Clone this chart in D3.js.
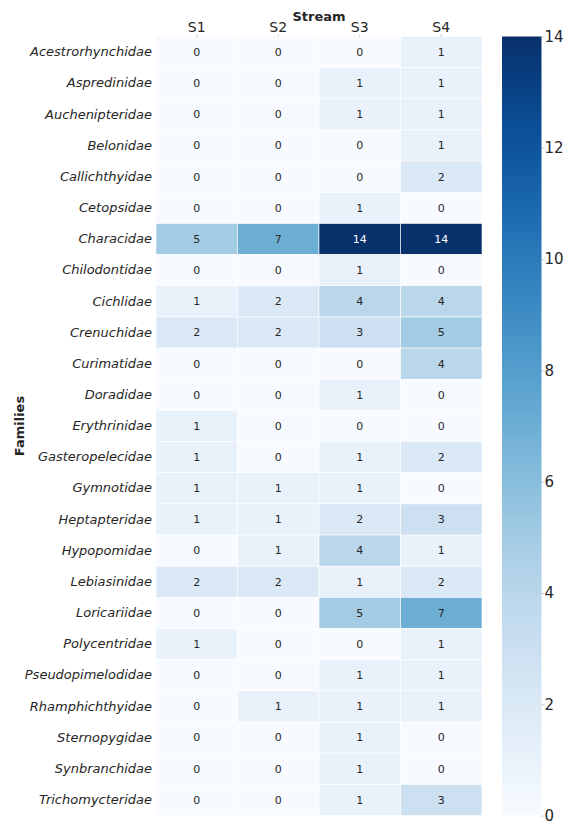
<!DOCTYPE html>
<html>
<head>
<meta charset="utf-8">
<script src="https://cdn.jsdelivr.net/npm/d3@7"></script>
<style>
  body { margin: 0; background: #fff; }
  text { font-family: "DejaVu Sans", sans-serif; fill: #262626; }
</style>
</head>
<body>
<div id="chart"></div>
<script>
var families = ["Acestrorhynchidae", "Aspredinidae", "Auchenipteridae", "Belonidae", "Callichthyidae",
  "Cetopsidae", "Characidae", "Chilodontidae", "Cichlidae", "Crenuchidae", "Curimatidae", "Doradidae",
  "Erythrinidae", "Gasteropelecidae", "Gymnotidae", "Heptapteridae", "Hypopomidae", "Lebiasinidae",
  "Loricariidae", "Polycentridae", "Pseudopimelodidae", "Rhamphichthyidae", "Sternopygidae",
  "Synbranchidae", "Trichomycteridae"];
var streams = ["S1", "S2", "S3", "S4"];
var s1 = [0, 0, 0, 0, 0, 0, 5, 0, 1, 2, 0, 0, 1, 1, 1, 1, 0, 2, 0, 1, 0, 0, 0, 0, 0];
var s2 = [0, 0, 0, 0, 0, 0, 7, 0, 2, 2, 0, 0, 0, 0, 1, 1, 1, 2, 0, 0, 0, 1, 0, 0, 0];
var s3 = [0, 1, 1, 0, 0, 1, 14, 1, 4, 3, 0, 1, 0, 1, 1, 2, 4, 1, 5, 0, 1, 1, 1, 1, 1];
var s4 = [1, 1, 1, 1, 2, 0, 14, 0, 4, 5, 4, 0, 0, 2, 0, 3, 1, 2, 7, 1, 1, 1, 0, 0, 3];
var colorTicks = [0, 2, 4, 6, 8, 10, 12, 14];

(function () {
  var width = 564, height = 821;
  var mLeft = 156, mRight = 482, mTop = 36.5, mBottom = 815.5;

  var svg = d3.select("#chart").append("svg")
    .attr("width", width)
    .attr("height", height);

  var x = d3.scaleBand().domain(streams).range([mLeft, mRight]);
  var y = d3.scaleBand().domain(families).range([mTop, mBottom]);
  var color = d3.scaleSequential(d3.interpolateBlues).domain([0, 14]);

  var cells = [];
  var series = [s1, s2, s3, s4];
  families.forEach(function (f, i) {
    streams.forEach(function (s, j) {
      cells.push({ family: f, stream: s, value: series[j][i] });
    });
  });

  svg.selectAll(".cell")
    .data(cells)
    .enter()
    .append("rect")
    .attr("class", "cell")
    .attr("x", function (d) { return x(d.stream) })
    .attr("y", function (d) { return y(d.family) })
    .attr("width", x.bandwidth())
    .attr("height", y.bandwidth())
    .attr("fill", function (d) { return color(d.value) })
    .attr("stroke", "white")
    .attr("stroke-width", 0.6);

  svg.selectAll(".annot")
    .data(cells)
    .enter()
    .append("text")
    .attr("class", "annot")
    .attr("x", function (d) { return x(d.stream) + x.bandwidth() / 2 })
    .attr("y", function (d) { return y(d.family) + y.bandwidth() / 2 })
    .attr("dy", "0.35em")
    .attr("text-anchor", "middle")
    .style("font-size", "11px")
    .style("fill", function (d) {
      var c = d3.rgb(color(d.value));
      var lum = (0.2126 * c.r + 0.7152 * c.g + 0.0722 * c.b) / 255;
      return lum < 0.45 ? "#ffffff" : "#262626";
    })
    .text(function (d) { return d.value });

  // column labels on top
  var xAxis = svg.append("g").attr("transform", "translate(0," + mTop + ")")
    .call(d3.axisTop(x).tickSize(2).tickPadding(3));
  xAxis.select(".domain").remove();
  xAxis.selectAll(".tick line").attr("stroke", "#bbb");
  xAxis.selectAll("text").style("font-size", "14px").style("fill", "#262626").style("font-family", "DejaVu Sans");

  // row labels
  var yAxis = svg.append("g").attr("transform", "translate(" + mLeft + ",0)")
    .call(d3.axisLeft(y).tickSize(0).tickPadding(4));
  yAxis.select(".domain").remove();
  yAxis.selectAll("text").style("font-size", "13px").style("font-style", "italic")
    .style("fill", "#262626").style("font-family", "DejaVu Sans");

  svg.append("text")
    .attr("x", 319).attr("y", 21)
    .attr("text-anchor", "middle")
    .style("font-size", "13px").style("font-weight", "bold")
    .text("Stream");

  svg.append("text")
    .attr("transform", "translate(24," + ((mTop + mBottom) / 2) + ") rotate(-90)")
    .attr("text-anchor", "middle")
    .style("font-size", "13px").style("font-weight", "bold")
    .text("Families");

  // colorbar
  var cbX = 502, cbW = 39.5;
  var cy = d3.scaleLinear().domain([0, 14]).range([mBottom, mTop]);
  var grad = svg.append("defs").append("linearGradient").attr("id", "cbgrad")
    .attr("x1", 0).attr("y1", 1).attr("x2", 0).attr("y2", 0);
  d3.range(0, 1.0001, 0.05).forEach(function (t) {
    grad.append("stop").attr("offset", t).attr("stop-color", d3.interpolateBlues(t));
  });
  svg.append("rect")
    .attr("x", cbX).attr("y", mTop)
    .attr("width", cbW).attr("height", mBottom - mTop)
    .attr("fill", "url(#cbgrad)");

  var cAxis = svg.append("g").attr("transform", "translate(" + (cbX + cbW) + ",0)")
    .call(d3.axisRight(cy).tickValues(colorTicks).tickSize(2).tickPadding(1));
  cAxis.select(".domain").remove();
  cAxis.selectAll(".tick line").attr("stroke", "#bbb");
  cAxis.selectAll("text").style("font-size", "15px").style("fill", "#262626").style("font-family", "DejaVu Sans");
})();
</script>
</body>
</html>
